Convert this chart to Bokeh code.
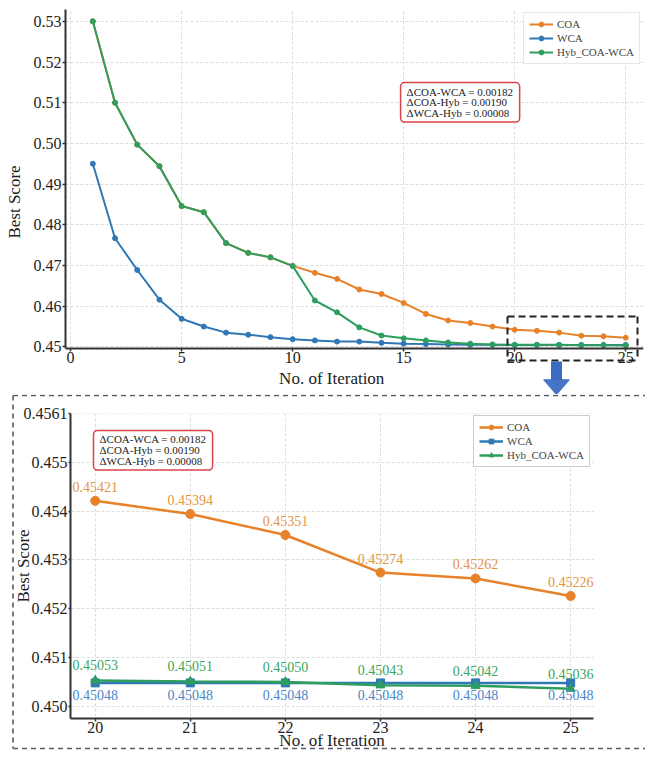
from bokeh.plotting import figure
from bokeh.layouts import column
from bokeh.models import Range1d, FixedTicker, Label, Arrow, BoxAnnotation
from bokeh.embed import file_html
from bokeh.resources import INLINE
from bokeh.core.properties import value

# ---------------- data ----------------
iterations = list(range(1, 26))
coa = [0.5300, 0.5100, 0.4997, 0.4944, 0.4846, 0.4831, 0.4755, 0.4731, 0.4720, 0.4699,
       0.4682, 0.4667, 0.4641, 0.4630, 0.4608, 0.4581, 0.4565, 0.4559, 0.4550,
       0.45421, 0.45394, 0.45351, 0.45274, 0.45262, 0.45226]
wca = [0.4950, 0.4767, 0.4689, 0.4616, 0.4569, 0.4550, 0.4535, 0.4530, 0.4524, 0.4519,
       0.4516, 0.4513, 0.4513, 0.4510, 0.4508, 0.4507, 0.4506, 0.4505, 0.4505,
       0.45048, 0.45048, 0.45048, 0.45048, 0.45048, 0.45048]
hyb = [0.5300, 0.5100, 0.4997, 0.4944, 0.4846, 0.4831, 0.4755, 0.4731, 0.4720, 0.4699,
       0.4614, 0.4585, 0.4548, 0.4528, 0.4521, 0.4516, 0.4511, 0.4508, 0.4506,
       0.45053, 0.45051, 0.45050, 0.45043, 0.45042, 0.45036]
series_names = ["COA", "WCA", "Hyb_COA-WCA"]

top_x_ticks = [0, 5, 10, 15, 20, 25]
top_y_ticks = [0.45, 0.46, 0.47, 0.48, 0.49, 0.50, 0.51, 0.52, 0.53]
top_y_labels = ["0.45", "0.46", "0.47", "0.48", "0.49", "0.50", "0.51", "0.52", "0.53"]

zoom_start = 19  # index of iteration 20
zoom_x_ticks = [20, 21, 22, 23, 24, 25]
zoom_y_ticks = [0.450, 0.451, 0.452, 0.453, 0.454, 0.455, 0.456]
zoom_y_labels = ["0.450", "0.451", "0.452", "0.453", "0.454", "0.455", "0.4561"]

delta_lines = ["\u0394COA-WCA = 0.00182", "\u0394COA-Hyb = 0.00190", "\u0394WCA-Hyb = 0.00008"]

# ---------------- style ----------------
FONT = "Liberation Serif"
C_COA = "#E8822A"
C_WCA = "#2F78B5"
C_HYB = "#2E9E5E"
T_COA = "#E3953F"
T_WCA = "#4C86C6"
T_HYB = "#3AA560"
AX = "#333333"
ARROW_BLUE = "#3A6CC4"


def style_axes(p, xt, yt, ylabels, fs):
    p.xaxis.ticker = FixedTicker(ticks=xt)
    p.yaxis.ticker = FixedTicker(ticks=yt)
    p.yaxis.major_label_overrides = {t: l for t, l in zip(yt, ylabels)}
    p.xaxis.major_label_overrides = {t: str(t) for t in xt}
    for ax in (p.xaxis, p.yaxis):
        ax.axis_line_width = 2
        ax.axis_line_color = AX
        ax.major_tick_line_color = AX
        ax.major_tick_line_width = 1.5
        ax.major_tick_out = 3
        ax.major_tick_in = 0
        ax.minor_tick_line_color = None
        ax.major_label_text_font = FONT
        ax.major_label_text_font_size = fs
        ax.major_label_text_color = "#222222"
        ax.major_label_standoff = 1
        ax.axis_label_text_font = FONT
        ax.axis_label_text_font_size = "17px"
        ax.axis_label_text_font_style = "normal"
        ax.axis_label_text_color = "#222222"
    p.grid.grid_line_color = "#dcdcdc"
    p.grid.grid_line_dash = "3 2"
    p.grid.grid_line_width = 1
    p.outline_line_color = None
    p.background_fill_color = "white"
    p.border_fill_color = "white"
    p.frame_align = False


def style_legend(p, border):
    lg = p.legend[0]
    lg.label_text_font = FONT
    lg.label_text_font_size = "11px"
    lg.glyph_width = 24
    lg.glyph_height = 12
    lg.label_height = 12
    lg.spacing = 2
    lg.padding = 5
    lg.margin = 3
    lg.label_standoff = 4
    lg.border_line_color = border
    lg.border_line_width = 1
    lg.background_fill_alpha = 0.95
    return lg


def delta_box(x, y):
    return Label(x=x, y=y, text="\n".join(delta_lines),
                 text_align="left", text_baseline="top", text_font=FONT,
                 text_font_size="11px", text_line_height=0.9, text_color="#222222",
                 padding=dict(left=6, right=6, top=3, bottom=3),
                 border_line_color="#D9434E", border_line_width=1.5,
                 border_radius=4, background_fill_color="white")


def white_cover(**kw):
    # hides grid lines outside the axes region of an enlarged frame
    return BoxAnnotation(fill_color="white", fill_alpha=1, line_alpha=0, level="underlay", **kw)


def seg(p, x0, y0, x1, y1, color, width, dash="solid"):
    # straight line segment in canvas pixels (head-less Arrow annotation)
    p.add_layout(Arrow(x_start=x0, y_start=y0, x_end=x1, y_end=y1,
                       start_units="canvas", end_units="canvas", start=None, end=None,
                       line_color=color, line_width=width, line_dash=dash))


# ---------------- top chart ----------------
# frame extends below the x axis so the zoom marker and arrow can be drawn there
Y1_AXIS = 0.44961
p1 = figure(width=645, height=394, output_backend="svg", toolbar_location=None,
            x_range=Range1d(-0.23, 25.8), y_range=Range1d(0.438305, 0.53290),
            min_border_left=65, min_border_right=2, min_border_top=9, min_border_bottom=0,
            y_axis_label="Best Score")
style_axes(p1, top_x_ticks, top_y_ticks, top_y_labels, "16px")
p1.xaxis.fixed_location = Y1_AXIS
p1.yaxis.bounds = (Y1_AXIS, 0.53290)
p1.yaxis.axis_label_standoff = 7
p1.add_layout(white_cover(top=Y1_AXIS))
p1.add_layout(Label(x=11.76, y=0.44224, text="No. of Iteration", text_align="center",
                    text_baseline="middle", text_font=FONT, text_font_size="17px",
                    text_color="#222222"))

for vals, col, name in zip([coa, wca, hyb], [C_COA, C_WCA, C_HYB], series_names):
    p1.line(iterations, vals, line_color=col, line_width=2, legend_label=name)
    p1.scatter(iterations, vals, size=5, marker="circle", color=col, legend_label=name)
lg1 = style_legend(p1, "#d0d0d0")
lg1.location = "top_right"

p1.add_layout(delta_box(14.86, 0.51496))

# dashed window around the zoomed iterations (canvas pixels)
BX0, BX1, BY0, BY1 = 507, 637, 316, 360
for a, b, c, d in [(BX0, BY0, BX1, BY0), (BX0, BY1, BX1, BY1),
                   (BX0, BY0, BX0, BY1), (BX1, BY0, BX1, BY1)]:
    seg(p1, a, b, c, d, "#222222", 2, "7 4")

# block arrow pointing to the zoomed chart
AXC, AY0, AY1, AY2, HALF = 556, 361, 379, 394, 13
seg(p1, AXC, AY0, AXC, AY1 + 1, ARROW_BLUE, 11)
n = AY2 - AY1
for k in range(n):
    w = HALF * (1 - k / n)
    seg(p1, AXC - w, AY1 + k + 0.5, AXC + w, AY1 + k + 0.5, ARROW_BLUE, 1.3)

# ---------------- zoomed chart ----------------
zx = iterations[zoom_start:]
zc = coa[zoom_start:]
zw = wca[zoom_start:]
zh = hyb[zoom_start:]

X2_LO, X2_HI, Y2_LO, Y2_HI = 19.74, 25.24, 0.44975, 0.456
p2 = figure(width=645, height=360, output_backend="svg", toolbar_location=None,
            x_range=Range1d(19.1195, 25.7869), y_range=Range1d(0.449074, 0.456389),
            min_border_left=11, min_border_right=0, min_border_top=0, min_border_bottom=3,
            x_axis_label="No. of Iteration", y_axis_label="Best Score")
style_axes(p2, zoom_x_ticks, zoom_y_ticks, zoom_y_labels, "16px")
p2.xaxis.fixed_location = Y2_LO
p2.yaxis.fixed_location = X2_LO
p2.xaxis.bounds = (X2_LO, X2_HI)
p2.yaxis.bounds = (Y2_LO, Y2_HI)
p2.xaxis.major_label_standoff = 0
p2.yaxis.major_tick_out = 2
p2.xaxis.axis_label_standoff = -5
p2.yaxis.axis_label_standoff = -12
p2.add_layout(white_cover(right=X2_LO))
p2.add_layout(white_cover(left=X2_HI))
p2.add_layout(white_cover(top=Y2_LO))
p2.add_layout(white_cover(bottom=Y2_HI))

p2.line(zx, zc, line_color=C_COA, line_width=2.5, legend_label=series_names[0])
p2.scatter(zx, zc, size=9, marker="circle", color=C_COA, legend_label=series_names[0])
p2.line(zx, zw, line_color=C_WCA, line_width=2.5, legend_label=series_names[1])
p2.scatter(zx, zw, size=8, marker="square", color=C_WCA, legend_label=series_names[1])
p2.line(zx, zh, line_color=C_HYB, line_width=2.5, legend_label=series_names[2])
p2.scatter(zx, zh, size=9, marker="triangle", color=C_HYB, legend_label=series_names[2])
lg2 = style_legend(p2, "#9a9a9a")
lg2.location = (462, 284)
lg2.margin = 0

for vals, tcol, off in [(zc, T_COA, -14), (zh, T_HYB, -15), (zw, T_WCA, 12)]:
    p2.text(zx, vals, text=[f"{v:.5f}" for v in vals], y_offset=off,
            text_align="center", text_baseline="middle", text_color=tcol,
            text_font=value(FONT), text_font_size="14px")

p2.add_layout(delta_box(19.982, 0.455652))

# dashed frame around the zoomed chart (canvas pixels)
FX0, FX1, FY0, FY1 = 12.5, 700, 1, 354
for a, b, c, d in [(FX0, FY0, FX1, FY0), (FX0, FY1, FX1, FY1), (FX0, FY0, FX0, FY1)]:
    seg(p2, a, b, c, d, "#555b68", 1.6, "5 4")

layout = column(p1, p2, spacing=0)
open("out.html", "w").write(file_html(layout, INLINE))
